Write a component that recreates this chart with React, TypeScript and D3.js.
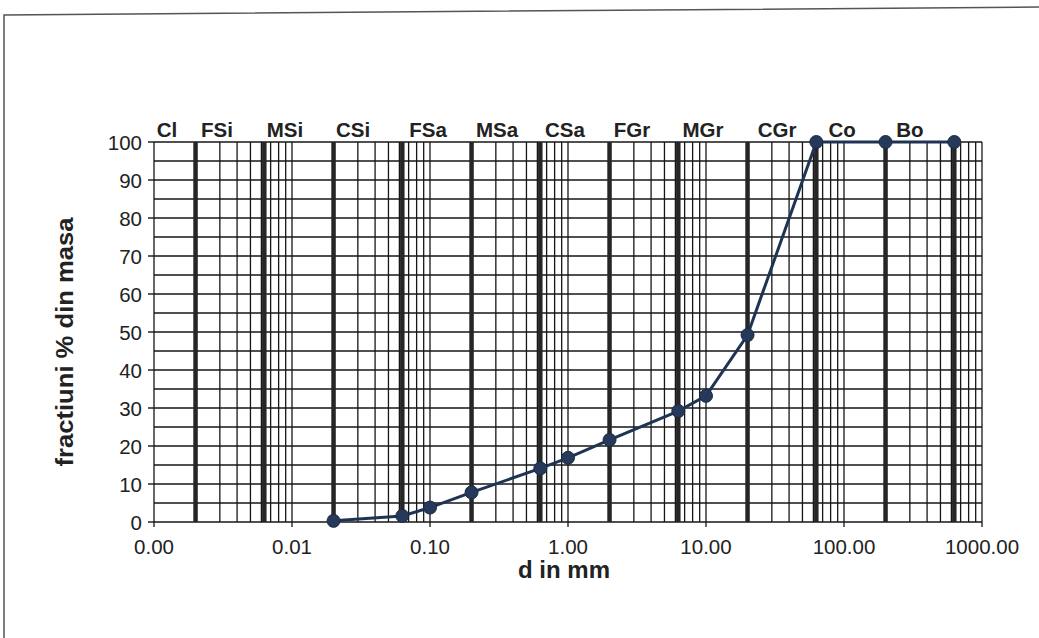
import React from "react";
import * as d3 from "d3";

// grain size distribution (d in mm vs. % passing)
const diameters = [0.02, 0.063, 0.1, 0.2, 0.63, 1, 2, 6.3, 10, 20, 63, 200, 630];
const passing = [0.3, 1.6, 3.8, 7.8, 14.1, 16.9, 21.6, 29.2, 33.2, 49.2, 100, 100, 100];

// soil class boundaries (thick lines)
const boundaries = [0.002, 0.0063, 0.02, 0.063, 0.2, 0.63, 2, 6.3, 20, 63, 200, 630];
const classNames = ["Cl", "FSi", "MSi", "CSi", "FSa", "MSa", "CSa", "FGr", "MGr", "CGr", "Co", "Bo"];
const classLabelAt = [0.00124, 0.00286, 0.0089, 0.0277, 0.0968, 0.306, 0.95, 2.91, 9.5, 32.7, 96.8, 300];

const xTicks = [0.001, 0.01, 0.1, 1, 10, 100, 1000];
const yTicks = [0, 10, 20, 30, 40, 50, 60, 70, 80, 90, 100];

const W = 1039;
const H = 638;
const left = 154;
const right = 982;
const top = 142;
const bottom = 522;
const font = "'Liberation Sans', Arial, sans-serif";

const App = () => {
  const x = d3.scaleLog().domain([0.001, 1000]).range([left, right]);
  const y = d3.scaleLinear().domain([0, 100]).range([bottom, top]);

  // minor log grid: 2..9 of each decade
  const minor: number[] = [];
  xTicks.slice(0, -1).forEach((dec) => {
    for (let k = 2; k <= 9; k++) minor.push(dec * k);
  });
  const hLines = d3.range(0, 101, 5);

  const line = d3
    .line<number>()
    .x((d, i) => x(d))
    .y((d, i) => y(passing[i]));

  return (
    <svg
      width={W}
      height={H}
      style={{ position: "absolute", left: 0, top: 0, background: "#fff" }}
      fontFamily={font}
    >
      {/* page frame */}
      <path d={`M4,${H} L4,15 L${W},7`} fill="none" stroke="#555" strokeWidth={1.5} />

      <g stroke="#161616">
        {hLines.map((v) => (
          <line key={"h" + v} x1={left} x2={right} y1={y(v)} y2={y(v)} strokeWidth={1.4} />
        ))}
        {minor.map((v, i) => (
          <line key={"m" + i} x1={x(v)} x2={x(v)} y1={top} y2={bottom} strokeWidth={1.3} />
        ))}
        {xTicks.map((v) => (
          <line key={"d" + v} x1={x(v)} x2={x(v)} y1={top} y2={bottom + 5} strokeWidth={1.3} />
        ))}
        {yTicks.map((v) => (
          <line key={"yt" + v} x1={left - 6} x2={left} y1={y(v)} y2={y(v)} strokeWidth={1.4} />
        ))}
        {boundaries.map((v) => (
          <line key={"b" + v} x1={x(v)} x2={x(v)} y1={top} y2={bottom} strokeWidth={4.5} stroke="#262626" />
        ))}
      </g>

      {/* class labels */}
      {classNames.map((n, i) => (
        <text
          key={n}
          x={x(classLabelAt[i])}
          y={137}
          textAnchor="middle"
          fontSize={20.5}
          fontWeight="bold"
          fill="#222"
        >
          {n}
        </text>
      ))}

      {/* y tick labels */}
      {yTicks.map((v) => (
        <text key={"yl" + v} x={left - 12} y={y(v) + 7.5} textAnchor="end" fontSize={20.5} fill="#222">
          {v}
        </text>
      ))}
      {/* x tick labels */}
      {xTicks.map((v) => (
        <text key={"xl" + v} x={x(v)} y={554} textAnchor="middle" fontSize={20.5} fill="#222">
          {v.toFixed(2)}
        </text>
      ))}

      <text x={564} y={578} textAnchor="middle" fontSize={24} fontWeight="bold" fill="#222">
        d in mm
      </text>
      <text
        transform={`translate(73,342) rotate(-90)`}
        textAnchor="middle"
        fontSize={24}
        fontWeight="bold"
        fill="#222"
        textLength={249}
        lengthAdjust="spacingAndGlyphs"
      >
        fractiuni % din masa
      </text>

      {/* grading curve */}
      <path d={line(diameters) || ""} fill="none" stroke="#1f3354" strokeWidth={3} />
      {diameters.map((d, i) => (
        <circle key={"p" + i} cx={x(d)} cy={y(passing[i])} r={6.5} fill="#26395a" stroke="#1a2a45" strokeWidth={1} />
      ))}
    </svg>
  );
};

export default App;
